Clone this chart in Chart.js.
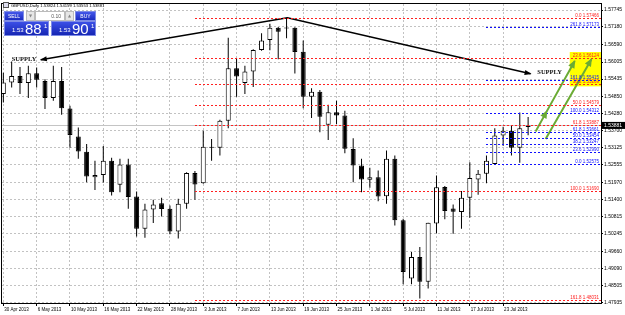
<!DOCTYPE html>
<html>
<head>
<meta charset="utf-8">
<script src="https://cdn.jsdelivr.net/npm/chart.js@4.4.0/dist/chart.umd.min.js"></script>
<style>
  html, body { margin: 0; padding: 0; background: #fff; }
  #wrap { position: relative; width: 625px; height: 315px; overflow: hidden; font-family: 'Liberation Sans', Arial, sans-serif; }
  #chart { position: absolute; left: 0; top: 0; }
  #title { position: absolute; left: 3px; top: 2px; height: 6px; font-size: 4.2px; line-height: 6px; color: #000; white-space: nowrap; }
  #title .ico { display: inline-block; width: 4px; height: 4px; border: 1px solid #555; background: #dde; margin-right: 2px; vertical-align: -1px; }
  .btn { position: absolute; top: 11px; height: 10px; box-sizing: border-box; border: 1px solid #7d8be6;
         background: linear-gradient(#4457ea, #1b2cc0); color: #fff; font-size: 5px; line-height: 8px; text-align: center; }
  .spin { position: absolute; top: 11px; height: 10px; box-sizing: border-box; border: 1px solid #bbb; background: #e6e6e6;
          color: #888; font-family: 'DejaVu Sans', sans-serif; font-size: 4px; line-height: 8px; text-align: center; }
  .lot { position: absolute; top: 11px; height: 10px; box-sizing: border-box; border: 1px solid #bbb; background: #fff;
         color: #555; font-size: 5px; line-height: 8px; text-align: right; padding-right: 3px; }
  .quote { position: absolute; top: 21px; width: 45px; height: 15px; box-sizing: border-box; border: 1px solid #7d8be6;
           background: linear-gradient(#3b4fe6, #1626b4); color: #fff; }
  .quote span { position: absolute; white-space: nowrap; }
  .q1 { left: 7px; top: 5px; font-size: 6px; line-height: 6px; }
  .q2 { left: 20px; top: -1px; font-size: 15px; line-height: 15px; }
  .q3 { left: 39px; top: 1px; font-size: 6px; line-height: 6px; }
</style>
</head>
<body>
<div id="wrap">
  <canvas id="chart" width="625" height="315"></canvas>
  <div id="title"><span class="ico"></span><span id="titleText"></span></div>
  <div class="btn" style="left:4px;width:20px;">SELL</div>
  <div class="spin" style="left:26px;width:9px;">▼</div>
  <div class="lot" style="left:35px;width:30px;">0.10</div>
  <div class="spin" style="left:65px;width:9px;">▲</div>
  <div class="btn" style="left:75px;width:21px;">BUY</div>
  <div class="quote" style="left:4px;"><span class="q1" id="s1"></span><span class="q2" id="s2"></span><span class="q3" id="s3"></span></div>
  <div class="quote" style="left:51px;"><span class="q1" id="b1"></span><span class="q2" id="b2"></span><span class="q3" id="b3"></span></div>
</div>
<script>
// --- data ---
const dates = ['30 Apr 2013','1 May 2013','2 May 2013','3 May 2013','6 May 2013','7 May 2013','8 May 2013','9 May 2013',
  '10 May 2013','13 May 2013','14 May 2013','15 May 2013','16 May 2013','17 May 2013','20 May 2013','21 May 2013',
  '22 May 2013','23 May 2013','24 May 2013','27 May 2013','28 May 2013','29 May 2013','30 May 2013','31 May 2013',
  '3 Jun 2013','4 Jun 2013','5 Jun 2013','6 Jun 2013','7 Jun 2013','10 Jun 2013','11 Jun 2013','12 Jun 2013',
  '13 Jun 2013','14 Jun 2013','17 Jun 2013','18 Jun 2013','19 Jun 2013','20 Jun 2013','21 Jun 2013','24 Jun 2013',
  '25 Jun 2013','26 Jun 2013','27 Jun 2013','28 Jun 2013','1 Jul 2013','2 Jul 2013','3 Jul 2013','4 Jul 2013',
  '5 Jul 2013','8 Jul 2013','9 Jul 2013','10 Jul 2013','11 Jul 2013','12 Jul 2013','15 Jul 2013','16 Jul 2013',
  '17 Jul 2013','18 Jul 2013','19 Jul 2013','22 Jul 2013','23 Jul 2013','24 Jul 2013','25 Jul 2013','26 Jul 2013'];

const opens  = [1.5493,1.5532,1.5554,1.5530,1.5563,1.5537,1.5480,1.5537,1.5445,1.5351,1.5300,1.5214,1.5222,1.5270,1.5189,1.5257,
  1.5150,1.5042,1.5106,1.5127,1.5109,1.5033,1.5126,1.5229,1.5194,1.5317,1.5313,1.5404,1.5580,1.5530,1.5569,1.5641,
  1.5674,1.5715,1.5715,1.5715,1.5635,1.5484,1.5501,1.5390,1.5432,1.5421,1.5309,1.5254,1.5206,1.5214,1.5151,1.5276,
  1.5070,1.4875,1.4947,1.4864,1.5059,1.5182,1.5110,1.5098,1.5146,1.5207,1.5226,1.5259,1.5354,1.5370,1.5313,1.53824];
const highs  = [1.5565,1.5602,1.5584,1.5588,1.5582,1.5543,1.5588,1.5584,1.5454,1.5381,1.5326,1.5270,1.5319,1.5280,1.5276,1.5276,
  1.5167,1.5126,1.5139,1.5146,1.5120,1.5142,1.5231,1.5235,1.5370,1.5343,1.5407,1.5682,1.5613,1.5588,1.5643,1.5697,
  1.5729,1.5718,1.5749,1.5717,1.5673,1.5513,1.5507,1.5457,1.5471,1.5437,1.5345,1.5276,1.5246,1.5237,1.5304,1.5287,
  1.5075,1.4964,1.4981,1.5062,1.5220,1.5185,1.5123,1.5168,1.5265,1.5239,1.5287,1.5379,1.5384,1.5387,1.5431,1.54159];
const lows   = [1.5465,1.5515,1.5493,1.5480,1.5515,1.5443,1.5471,1.5424,1.5313,1.5276,1.5198,1.5172,1.5197,1.5153,1.5164,1.5109,
  1.5016,1.5012,1.5061,1.5083,1.5023,1.5009,1.5109,1.5139,1.5193,1.5270,1.5287,1.5379,1.5484,1.5493,1.5517,1.5638,
  1.5640,1.5610,1.5680,1.5562,1.5446,1.5413,1.5365,1.5339,1.5393,1.5295,1.5198,1.5164,1.5179,1.5134,1.5126,1.5053,
  1.4856,1.4856,1.4808,1.4842,1.5027,1.5074,1.5025,1.5042,1.5079,1.5156,1.5194,1.5258,1.5320,1.5287,1.5263,1.53553];
const closes = [1.5532,1.5554,1.5530,1.5563,1.5541,1.5480,1.5537,1.5446,1.5356,1.5301,1.5217,1.5222,1.5270,1.5164,1.5257,1.5148,
  1.5042,1.5106,1.5123,1.5108,1.5033,1.5126,1.5229,1.5190,1.5317,1.5313,1.5404,1.5580,1.5552,1.5569,1.5641,1.5673,
  1.5715,1.5702,1.5713,1.5634,1.5484,1.5501,1.5417,1.5432,1.5421,1.5310,1.5254,1.5207,1.5214,1.5150,1.5276,1.5070,
  1.4897,1.4947,1.4864,1.5062,1.5181,1.5101,1.5099,1.5146,1.5212,1.5226,1.5270,1.5354,1.5370,1.5313,1.5379,1.53881];

const xTickIdx = [0,4,8,12,16,20,24,28,32,36,40,44,48,52,56,60];
const yTicks = [1.57745,1.57180,1.56590,1.56005,1.55435,1.54850,1.54280,1.53700,1.53125,1.52555,
  1.51970,1.51400,1.50815,1.50245,1.49660,1.49090,1.48505,1.47935];
const xMin = -0.16, xMax = 71.75;
const yMin = 1.4793, yMax = 1.5795;

const askPrice = 1.53901;
const bidPrice = closes[closes.length - 1];

const redFibLevels = ['0.0','23.6','38.2','50.0','61.8','100.0','161.8'];
const redFibPrices = [1.57466,1.56124,1.55269,1.54579,1.53887,1.51690,1.48031];
const redFibStart = 23;
const blueFibLevels = ['0.0','23.6','38.2','50.0','61.8','100.0','161.8','261.8'];
const blueFibPrices = [1.52575,1.52990,1.53247,1.53454,1.53661,1.54312,1.55415,1.57173];
const blueFibStart = 58;

// hand drawn objects, in bar index / price units
const trendX = [4.5, 34.1, 63.3];
const trendY = [1.5608, 1.5749, 1.5561];
const greenAX = [63.9, 65.25, 68.6];
const greenAY = [1.5368, 1.5436, 1.5604];
const greenBX = [65.1, 70.6];
const greenBY = [1.5343, 1.5610];
const supplyX = [1.0, 64.1];
const supplyY = [1.5608, 1.5565];
const zoneX = [68.0, 71.75];
const zoneY = [1.5634, 1.5519];

// --- header panel text ---
const last = closes.length - 1;
document.getElementById('titleText').textContent =
  `GBPUSD,Daily ${opens[last].toFixed(5)} ${highs[last].toFixed(5)} ${lows[last].toFixed(5)} ${closes[last].toFixed(5)}`;
function splitQuote(p, pre) {
  const s = p.toFixed(5);
  document.getElementById(pre + '1').textContent = s.slice(0, 4);
  document.getElementById(pre + '2').textContent = s.slice(4, 6);
  document.getElementById(pre + '3').textContent = s.slice(6);
}
splitQuote(bidPrice, 's');
splitQuote(askPrice, 'b');

Chart.defaults.font.family = "'Liberation Sans', Arial, sans-serif";

function drawHead(ctx, from, to, color, len, half) {
  const ang = Math.atan2(to.y - from.y, to.x - from.x);
  ctx.save();
  ctx.translate(to.x, to.y);
  ctx.rotate(ang);
  ctx.fillStyle = color;
  ctx.beginPath();
  ctx.moveTo(1, 0);
  ctx.lineTo(-len, -half);
  ctx.lineTo(-len, half);
  ctx.closePath();
  ctx.fill();
  ctx.restore();
}

const decorations = {
  id: 'decorations',
  beforeDatasetsDraw(chart) {
    const { ctx, chartArea: a, scales: { x, y } } = chart;
    ctx.save();
    // yellow target zone
    const zx = x.getPixelForValue(zoneX[0]);
    const zt = y.getPixelForValue(zoneY[0]);
    const zb = y.getPixelForValue(zoneY[1]);
    ctx.fillStyle = '#ffff00';
    ctx.fillRect(zx, zt, x.getPixelForValue(zoneX[1]) - zx, zb - zt);
    // bid line
    const by = Math.round(y.getPixelForValue(bidPrice)) + 0.5;
    ctx.strokeStyle = '#c4c4c4';
    ctx.lineWidth = 1;
    ctx.beginPath();
    ctx.moveTo(a.left, by);
    ctx.lineTo(a.right, by);
    ctx.stroke();
    ctx.restore();
  },
  afterDatasetsDraw(chart) {
    const { ctx, chartArea: a, scales: { x, y } } = chart;
    ctx.save();
    const drawFib = (levels, prices, start, color) => {
      const x0 = x.getPixelForValue(start);
      ctx.strokeStyle = color;
      ctx.fillStyle = color;
      ctx.lineWidth = 1;
      ctx.setLineDash([2, 2]);
      ctx.font = "4.5px 'Liberation Sans'";
      ctx.textAlign = 'right';
      ctx.textBaseline = 'bottom';
      prices.forEach((p, i) => {
        const py = Math.round(y.getPixelForValue(p)) + 0.5;
        ctx.beginPath();
        ctx.moveTo(Math.round(x0), py);
        ctx.lineTo(a.right, py);
        ctx.stroke();
        ctx.fillText(levels[i] + ' ' + p.toFixed(5), a.right - 2, py - 0.5);
      });
      ctx.setLineDash([]);
    };
    drawFib(redFibLevels, redFibPrices, redFibStart, '#ff2020');
    drawFib(blueFibLevels, blueFibPrices, blueFibStart, '#1010ff');

    // arrow heads on the drawn lines
    chart.data.datasets.forEach((ds, di) => {
      if (!ds.arrowAt) return;
      const pts = chart.getDatasetMeta(di).data;
      ds.arrowAt.forEach(([f, t]) => drawHead(ctx, pts[f], pts[t], ds.borderColor, ds.headLen, ds.headHalf));
    });

    // SUPPLY labels
    ctx.fillStyle = '#111';
    ctx.font = "bold 6.5px 'Liberation Serif'";
    ctx.textAlign = 'left';
    ctx.textBaseline = 'middle';
    supplyX.forEach((sx, i) => {
      ctx.fillText('SUPPLY', x.getPixelForValue(sx), y.getPixelForValue(supplyY[i]));
    });
    ctx.restore();
  },
  afterDraw(chart) {
    const { ctx, chartArea: a, scales: { y } } = chart;
    ctx.save();
    ctx.strokeStyle = '#000';
    ctx.lineWidth = 1;
    ctx.strokeRect(a.left - 0.5, a.top - 0.5, a.right - a.left + 1, a.bottom - a.top + 1);
    // current price tag
    const py = y.getPixelForValue(bidPrice);
    ctx.fillStyle = '#000';
    ctx.fillRect(a.right + 1, py - 3.5, chart.width - a.right - 1, 7);
    ctx.fillStyle = '#fff';
    ctx.font = "5px 'Liberation Sans'";
    ctx.textAlign = 'left';
    ctx.textBaseline = 'middle';
    ctx.fillText(bidPrice.toFixed(5), a.right + 3, py + 0.3);
    ctx.restore();
  }
};

const bodies = opens.map((o, i) => ({ x: i, y: [o, closes[i]] }));
const wicks = lows.map((l, i) => ({ x: i, y: [l, highs[i]] }));
const pts = (xs, ys) => xs.map((v, i) => ({ x: v, y: ys[i] }));

new Chart(document.getElementById('chart'), {
  type: 'bar',
  data: {
    datasets: [
      { type: 'line', data: pts(trendX, trendY), borderColor: '#000', borderWidth: 1.6, pointRadius: 0,
        tension: 0, order: 0, arrowAt: [[1, 0], [1, 2]], headLen: 6, headHalf: 2.5 },
      { type: 'line', data: pts(greenAX, greenAY), borderColor: '#6aab34', borderWidth: 2, pointRadius: 0,
        tension: 0, order: 0, arrowAt: [[0, 1], [1, 2]], headLen: 7, headHalf: 3.5 },
      { type: 'line', data: pts(greenBX, greenBY), borderColor: '#6aab34', borderWidth: 2, pointRadius: 0,
        tension: 0, order: 0, arrowAt: [[0, 1]], headLen: 7, headHalf: 3.5 },
      { type: 'bar', data: bodies, grouped: false, order: 1,
        backgroundColor: opens.map((o, i) => closes[i] >= o ? '#ffffff' : '#000000'),
        borderColor: '#000', borderWidth: 1, borderSkipped: false, maxBarThickness: 5, minBarLength: 1, inflateAmount: 0 },
      { type: 'bar', data: wicks, grouped: false, order: 2,
        backgroundColor: '#000', borderWidth: 0, maxBarThickness: 1, inflateAmount: 0 }
    ]
  },
  options: {
    responsive: false,
    animation: false,
    events: [],
    layout: { padding: { left: 2, top: 3, right: 0, bottom: 0 } },
    plugins: { legend: { display: false }, tooltip: { enabled: false } },
    scales: {
      x: {
        type: 'linear', min: xMin, max: xMax, offset: false,
        grid: { offset: false, color: '#c2c2c2', lineWidth: 1, tickColor: '#000', tickLength: 3 },
        border: { display: false, dash: [2, 2] },
        ticks: { autoSkip: false, maxRotation: 0, align: 'start', padding: 1, labelOffset: 1,
                 font: { size: 4.5 }, color: '#000', callback: (v) => dates[v] ?? '' },
        afterBuildTicks: (s) => { s.ticks = xTickIdx.map(v => ({ value: v })); },
        afterFit: (s) => { s.height = 12; }
      },
      y: {
        type: 'linear', position: 'right', min: yMin, max: yMax, beginAtZero: false,
        grid: { color: '#c2c2c2', lineWidth: 1, tickColor: '#000', tickLength: 2 },
        border: { display: false, dash: [2, 2] },
        ticks: { autoSkip: false, padding: 1, font: { size: 5 }, color: '#000', callback: (v) => v.toFixed(5) },
        afterBuildTicks: (s) => { s.ticks = yTicks.map(v => ({ value: v })); },
        afterFit: (s) => { s.width = 24; }
      }
    }
  },
  plugins: [decorations]
});
</script>
</body>
</html>
